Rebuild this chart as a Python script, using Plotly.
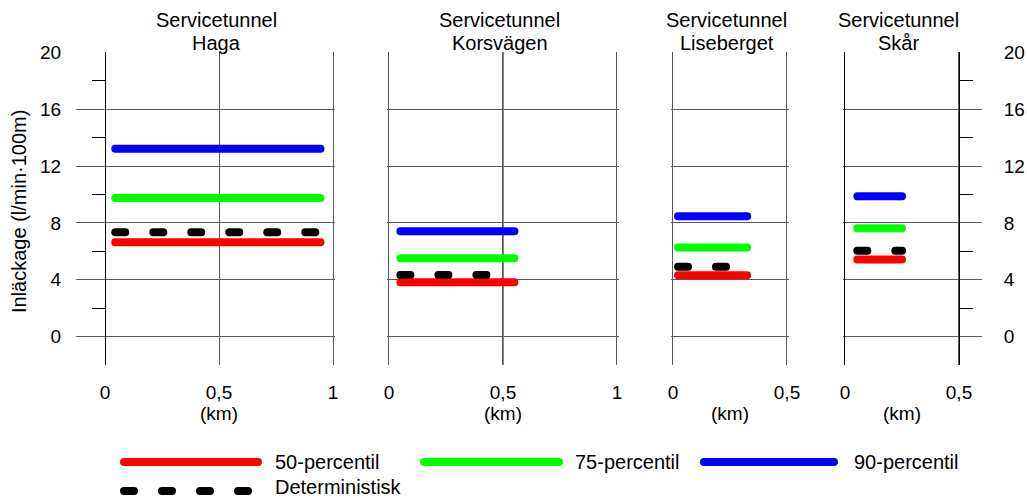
import plotly.graph_objects as go

W, H = 1027, 499
FONT = "Liberation Sans, Arial, sans-serif"

# ---- data ----
panels = ["Haga", "Korsvägen", "Liseberget", "Skår"]
x_start = [0.045, 0.05, 0.022, 0.054]
x_end = [0.945, 0.55, 0.325, 0.25]
p50 = [6.64, 3.83, 4.32, 5.42]
p75 = [9.75, 5.51, 6.26, 7.62]
p90 = [13.22, 7.41, 8.47, 9.88]
determ = [7.34, 4.34, 4.92, 6.03]
y_ticks = [0, 4, 8, 12, 16, 20]
y_minor = [2, 6, 10, 14, 18]
x_tickvals = [[0, 0.5, 1], [0, 0.5, 1], [0, 0.5], [0, 0.5]]
x_ticktext = [["0", "0,5", "1"], ["0", "0,5", "1"], ["0", "0,5"], ["0", "0,5"]]
series_names = ["50-percentil", "75-percentil", "90-percentil", "Deterministisk"]
series_colors = ["#ff0000", "#00ff00", "#0000ff", "#000000"]

# ---- layout geometry ----
PX_PER_KM = 228.0
x0_px = [105, 389, 673, 845]
x_ranges = [[-0.127, 1.008], [-0.008, 1.008], [-0.008, 0.508], [-0.008, 0.603]]
T, B = 52, 134
plot_h = H - T - B
DASH = "10px,28px"
GRID = "#5a5a5a"


def py(px):
    return (H - B - px) / plot_h


fig = go.Figure()
series_vals = [p50, p75, p90, determ]
for i in range(4):
    xa = "x" if i == 0 else f"x{i+1}"
    ya = "y" if i == 0 else f"y{i+1}"
    for s, vals in enumerate(series_vals):
        fig.add_trace(go.Scatter(
            x=[x_start[i], x_end[i]], y=[vals[i], vals[i]],
            mode="lines", xaxis=xa, yaxis=ya, showlegend=False,
            line=dict(color=series_colors[s], width=8,
                      dash=DASH if s == 3 else "solid"),
            hoverinfo="skip"))

layout = dict(
    width=W, height=H, margin=dict(l=0, r=0, t=T, b=B, pad=0, autoexpand=False),
    plot_bgcolor="white", paper_bgcolor="white",
    font=dict(family=FONT, size=19, color="black"),
    showlegend=False,
)
annotations = []
shapes = []
for i in range(4):
    r0, r1 = x_ranges[i]
    d0 = (x0_px[i] + r0 * PX_PER_KM) / W
    d1 = (x0_px[i] + r1 * PX_PER_KM) / W
    xk = "xaxis" if i == 0 else f"xaxis{i+1}"
    yk = "yaxis" if i == 0 else f"yaxis{i+1}"
    ya = "y" if i == 0 else f"y{i+1}"
    xr = "x" if i == 0 else f"x{i+1}"
    layout[xk] = dict(
        domain=[d0, d1], range=[r0, r1], anchor=ya, automargin=False,
        tickvals=x_tickvals[i], ticktext=x_ticktext[i],
        showgrid=True, gridcolor=GRID, gridwidth=1,
        zeroline=(i == 3), zerolinecolor="black", zerolinewidth=1,
        showline=False, ticks="", ticklabelstandoff=14,
        tickfont=dict(size=19), fixedrange=True,
    )
    ydict = dict(
        domain=[0, 1], range=[-2, 20.02], tickvals=y_ticks, automargin=False,
        showgrid=True, gridcolor=GRID, gridwidth=1, zeroline=False,
        ticks="", fixedrange=True,
    )
    if i == 0 or i == 3:
        ydict.update(
            anchor="free",
            position=(x0_px[i] + (0 if i == 0 else 0.5) * PX_PER_KM) / W,
            side="left" if i == 0 else "right",
            showline=True, linecolor="black", linewidth=1,
            showticklabels=True, ticklabelstandoff=40,
            tickfont=dict(size=19),
            minor=dict(tickvals=y_minor, ticks="outside", ticklen=13,
                       tickcolor="black", tickwidth=1, showgrid=False),
        )
    else:
        ydict.update(anchor=xr, showticklabels=False, showline=False)
    layout[yk] = ydict

    xc = (x_tickvals[i][0] + x_tickvals[i][-1]) / 2
    annotations.append(dict(xref=xr, yref="paper", x=xc, y=py(20), xshift=-3,
                            text="Servicetunnel", showarrow=False,
                            font=dict(size=20), xanchor="center", yanchor="middle"))
    annotations.append(dict(xref=xr, yref="paper", x=xc, y=py(43), xshift=-3,
                            text=panels[i], showarrow=False,
                            font=dict(size=20), xanchor="center", yanchor="middle"))
    annotations.append(dict(xref=xr, yref="paper", x=xc, y=py(413),
                            text="(km)", showarrow=False,
                            font=dict(size=19), xanchor="center", yanchor="middle"))

# Korsvägen middle grid line drawn darker
shapes.append(dict(type="line", xref="x2", yref="paper",
                   x0=x_tickvals[1][1], x1=x_tickvals[1][1], y0=0, y1=1,
                   line=dict(color="black", width=1), layer="below"))

# y-axis title
annotations.append(dict(xref="paper", yref="paper", x=19 / W, y=py(212),
                        text="Inläckage (l/min·100m)", textangle=-90,
                        showarrow=False, font=dict(size=20),
                        xanchor="center", yanchor="middle"))

# custom legend
leg_items = [
    (124, 258, 462, 273, 462),
    (424, 559, 462, 573, 462),
    (704, 834, 462, 852, 462),
    (124, 258, 491, 273, 487),
]
for s, (a, b, yy, tx, ty) in enumerate(leg_items):
    shapes.append(dict(type="line", xref="paper", yref="paper",
                       x0=a / W, x1=b / W, y0=py(yy), y1=py(yy),
                       line=dict(color=series_colors[s], width=8,
                                 dash=DASH if s == 3 else "solid")))
    annotations.append(dict(xref="paper", yref="paper", x=tx / W, y=py(ty),
                            text=series_names[s], showarrow=False,
                            font=dict(size=20), xanchor="left", yanchor="middle"))

layout["annotations"] = annotations
layout["shapes"] = shapes
fig.update_layout(**layout)

post = """
var gd = document.getElementById('{plot_id}');
function caps(){
  gd.querySelectorAll('.scatterlayer path.js-line').forEach(function(p){p.style.strokeLinecap='round';});
  gd.querySelectorAll('.shapelayer path').forEach(function(p){
    if (parseFloat(p.style.strokeWidth) > 4) p.style.strokeLinecap='round';
  });
}
caps();
gd.on('plotly_afterplot', caps);
"""
fig.write_html("out.html", post_script=post, config={"displayModeBar": False})
